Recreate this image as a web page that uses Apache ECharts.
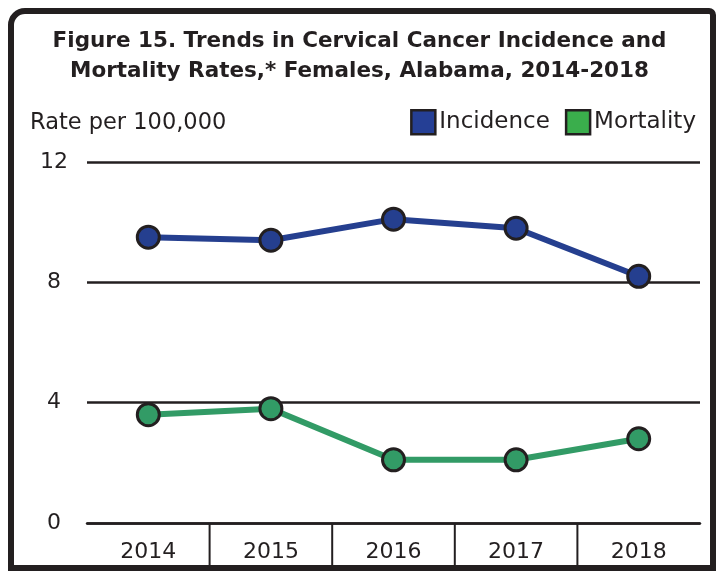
<!DOCTYPE html>
<html>
<head>
<meta charset="utf-8">
<script src="https://cdn.jsdelivr.net/npm/echarts@6/dist/echarts.min.js"></script>
<style>html,body{margin:0;padding:0;background:#fff}#c{width:719px;height:571px}</style>
</head>
<body>
<div id="c"></div>
<script>
const years = ['2014', '2015', '2016', '2017', '2018'];
const incidence = [9.5, 9.4, 10.1, 9.8, 8.2];
const mortality = [3.6, 3.8, 2.1, 2.1, 2.8];
const yTicks = [0, 4, 8, 12];

const FONT = 'DejaVu Sans';
const INK = '#231f20';
const chart = echarts.init(document.getElementById('c'));

const option = {
  animation: false,
  textStyle: { fontFamily: FONT, color: INK },
  title: [
    {
      text: 'Figure 15. Trends in Cervical Cancer Incidence and\nMortality Rates,* Females, Alabama, 2014-2018',
      left: 'center', top: 21,
      textStyle: { fontFamily: FONT, fontWeight: 'bold', fontSize: 21.5, lineHeight: 30.5, color: INK }
    },
    {
      text: 'Rate per 100,000',
      left: 25, top: 107,
      textStyle: { fontFamily: FONT, fontWeight: 'normal', fontSize: 22.5, color: INK }
    }
  ],
  legend: {
    right: 18, top: 104,
    icon: 'rect', itemWidth: 24, itemHeight: 24, itemGap: 15,
    textStyle: { fontFamily: FONT, fontSize: 23, color: INK, padding: [0, 0, 0, -1] },
    data: [
      { name: 'Incidence', itemStyle: { color: '#253f95', borderColor: INK, borderWidth: 2.5 } },
      { name: 'Mortality', itemStyle: { color: '#3aae4c', borderColor: INK, borderWidth: 2.5 } }
    ]
  },
  grid: { left: 87, right: 19, top: 162, bottom: 48 },
  xAxis: {
    type: 'category', data: years, boundaryGap: true,
    axisLine: { lineStyle: { color: INK, width: 2.5 } },
    axisTick: { show: false },
    axisLabel: { fontFamily: FONT, fontSize: 22, color: INK, margin: 18 }
  },
  yAxis: {
    type: 'value', min: 0, max: 12, interval: 4,
    axisLine: { show: false }, axisTick: { show: false },
    axisLabel: { fontFamily: FONT, fontSize: 22, color: INK, margin: 33, align: 'center' },
    splitLine: { lineStyle: { color: INK, width: 2.5 } }
  },
  series: [
    {
      name: 'Incidence', type: 'line', data: incidence,
      symbol: 'circle', symbolSize: 22,
      lineStyle: { color: '#253f8f', width: 6 },
      itemStyle: { color: '#253f8f', borderColor: INK, borderWidth: 3 },
      z: 3
    },
    {
      name: 'Mortality', type: 'line', data: mortality,
      symbol: 'circle', symbolSize: 22,
      lineStyle: { color: '#329b66', width: 6 },
      itemStyle: { color: '#329b66', borderColor: INK, borderWidth: 3 },
      z: 3
    }
  ]
};
chart.setOption(option);

// separators between category labels, positioned through the axis scale
const els = [];
const y0 = chart.convertToPixel({ yAxisIndex: 0 }, 0);
for (let i = 0; i < years.length - 1; i++) {
  const a = chart.convertToPixel({ xAxisIndex: 0 }, years[i]);
  const b = chart.convertToPixel({ xAxisIndex: 0 }, years[i + 1]);
  const x = (a + b) / 2;
  els.push({ type: 'line', shape: { x1: x, y1: y0, x2: x, y2: y0 + 46 }, style: { stroke: INK, lineWidth: 2 }, z: 10 });
}
els.push({
  type: 'rect', shape: { x: 11, y: 11, width: 702, height: 557, r: [14, 4, 0, 0] },
  style: { fill: 'none', stroke: INK, lineWidth: 6 }, z: 20
});
chart.setOption({ graphic: { elements: els } });
</script>
</body>
</html>
